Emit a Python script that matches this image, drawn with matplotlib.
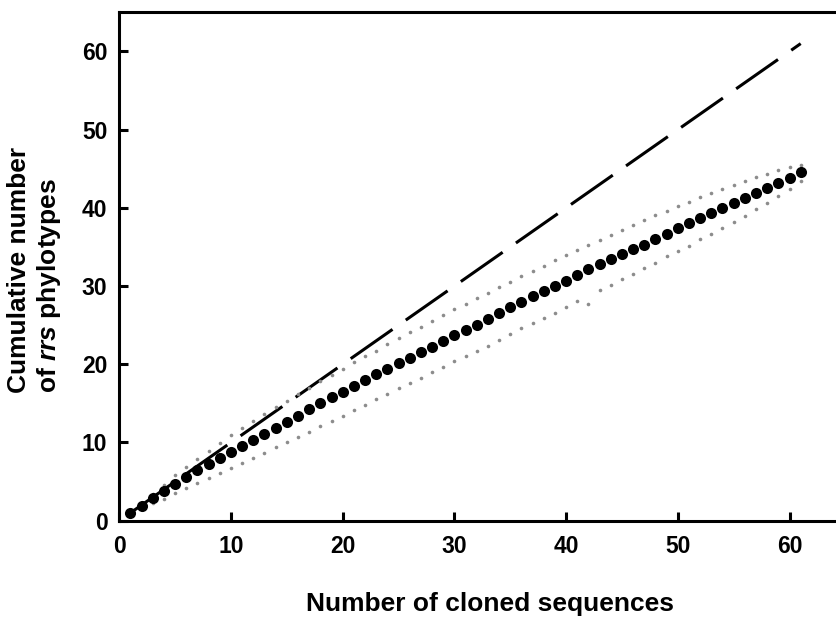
import matplotlib
matplotlib.use("Agg")
import matplotlib.pyplot as plt

plt.rcParams['font.family'] = ['Liberation Sans', 'DejaVu Sans']
plt.rcParams['mathtext.fontset'] = 'custom'
plt.rcParams['mathtext.it'] = 'Liberation Sans:italic:bold'
plt.rcParams['mathtext.rm'] = 'Liberation Sans:bold'

# number of cloned sequences
clones = list(range(1, 62))

# cumulative number of phylotypes (rarefaction mean)
phylotypes = [1.0, 1.9, 2.86, 3.82, 4.75, 5.62, 6.45, 7.25, 8.05, 8.83,
              9.6, 10.33, 11.1, 11.85, 12.65, 13.45, 14.25, 15.02, 15.79, 16.5,
              17.23, 17.93, 18.7, 19.41, 20.13, 20.8, 21.58, 22.27, 23.03, 23.76,
              24.43, 25.06, 25.78, 26.53, 27.28, 28.0, 28.67, 29.42, 30.03, 30.7,
              31.36, 32.12, 32.82, 33.46, 34.12, 34.74, 35.3, 36.04, 36.68, 37.36,
              38.04, 38.64, 39.32, 39.96, 40.66, 41.25, 41.9, 42.53, 43.18, 43.82, 44.52]

# 95% confidence limits
upper = [1.0, 2.3, 3.45, 4.57, 5.85, 6.91, 7.85, 8.96, 9.98, 10.96,
         11.82, 12.79, 13.65, 14.58, 15.35, 16.15, 16.95, 17.8, 18.64, 19.4,
         20.26, 21.03, 21.75, 22.56, 23.33, 24.1, 24.82, 25.59, 26.31, 27.04,
         27.75, 28.45, 29.17, 29.86, 30.58, 31.3, 31.98, 32.62, 33.35, 33.99,
         34.63, 35.27, 35.91, 36.55, 37.19, 37.83, 38.47, 39.11, 39.62, 40.26,
         40.81, 41.37, 41.96, 42.43, 42.95, 43.46, 43.93, 44.39, 44.78, 45.16, 45.5]
lower = [1.0, 1.55, 2.2, 2.78, 3.5, 4.14, 4.86, 5.42, 6.14, 6.7,
         7.42, 8.06, 8.7, 9.39, 10.03, 10.75, 11.39, 12.11, 12.75, 13.43,
         14.16, 14.8, 15.53, 16.2, 16.93, 17.58, 18.3, 18.98, 19.7, 20.43,
         21.11, 21.75, 22.39, 23.12, 23.84, 24.61, 25.25, 25.89, 26.61, 27.3,
         28.05, 27.72, 29.51, 30.15, 30.88, 31.56, 32.37, 33.01, 33.78, 34.5,
         35.18, 36.0, 36.68, 37.48, 38.25, 38.98, 39.87, 40.68, 41.54, 42.47, 43.46]

# 1:1 line (every clone a new phylotype)
line_x = [1, 61]
line_y = [1, 61]

fig = plt.figure(figsize=(8.37, 6.19), dpi=100)
ax = fig.add_axes([0.1425, 0.1588, 0.8575, 0.8213])

ax.plot(line_x, line_y, color='black', lw=2.2, linestyle=(0, (16.7, 5.3)),
        solid_capstyle='butt', dash_capstyle='butt', zorder=2)
ax.plot(clones, upper, linestyle='none', marker='o', ms=2.6, color='#8c8c8c',
        markeredgewidth=0, zorder=3)
ax.plot(clones, lower, linestyle='none', marker='o', ms=2.6, color='#8c8c8c',
        markeredgewidth=0, zorder=3)
ax.plot(clones, phylotypes, linestyle='none', marker='o', ms=8, color='black',
        markeredgewidth=0, zorder=4)

ax.set_xlim(0, 64.25)
ax.set_ylim(0, 65)
ax.set_xticks([0, 10, 20, 30, 40, 50, 60])
ax.set_yticks([0, 10, 20, 30, 40, 50, 60])

for side in ['left', 'top', 'bottom']:
    ax.spines[side].set_linewidth(2.2)
ax.spines['right'].set_visible(False)

ax.tick_params(direction='in', length=6.5, width=2.2, labelsize=16.5)
ax.tick_params(axis='x', pad=10)
ax.tick_params(axis='y', pad=8.5)
for lab in ax.get_xticklabels() + ax.get_yticklabels():
    lab.set_fontweight('bold')

ax.set_xlabel('Number of cloned sequences', fontsize=19, fontweight='bold')
ax.xaxis.set_label_coords(0.5165, -0.14)
ax.set_ylabel('Cumulative number\nof $rrs$ phylotypes', fontsize=19,
              fontweight='bold', multialignment='left')
ax.yaxis.set_label_coords(-0.078, 0.493)

fig.savefig('out.png', dpi=100)
